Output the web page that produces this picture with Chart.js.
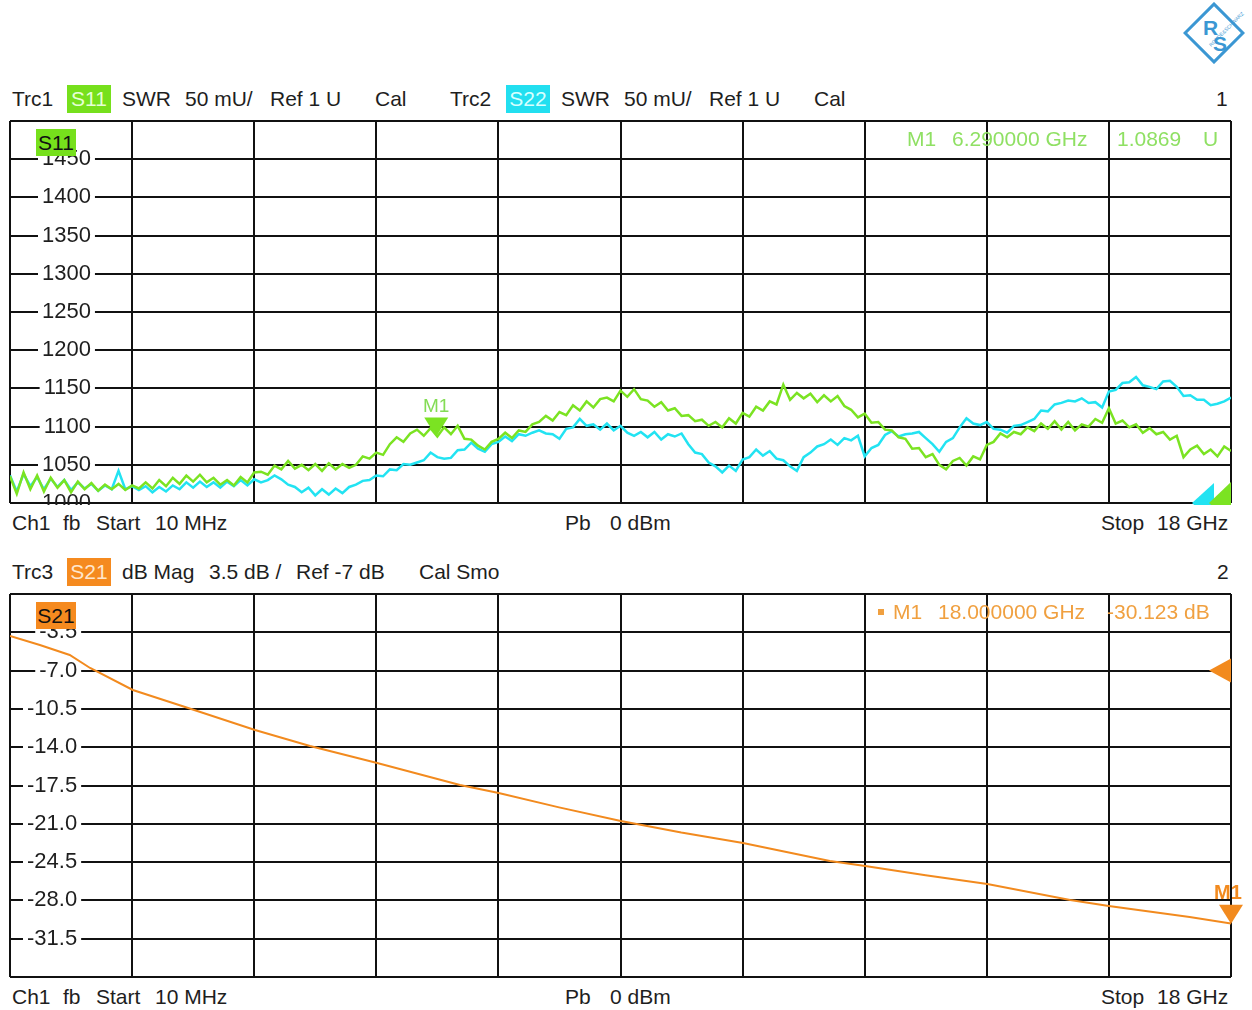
<!DOCTYPE html>
<html>
<head>
<meta charset="utf-8">
<script src="https://cdn.jsdelivr.net/npm/chart.js@4.4.1/dist/chart.umd.min.js"></script>
<style>
body { margin: 0; background: #fff; }
#page { position: relative; width: 1252px; height: 1010px; overflow: hidden; font-family: "Liberation Sans", Arial, sans-serif; font-size: 21px; color: #1e1e1e; }
.t { position: absolute; white-space: pre; line-height: 24px; }
.badge { position: absolute; height: 28px; line-height: 28px; text-align: center; white-space: pre; }
canvas { position: absolute; left: 0; }
.over { z-index: 2; }
</style>
</head>
<body>
<div id="page">
  <!-- logo -->
  <svg style="position:absolute;left:1183px;top:2px" width="62" height="62" viewBox="0 0 62 62">
    <rect x="10.5" y="10.5" width="41" height="41" transform="rotate(45 31 31)" fill="#fff" stroke="#3b97d3" stroke-width="3"/>
    <text x="20" y="33" font-size="21" fill="#3b97d3" font-family="Liberation Sans" font-weight="bold">R</text>
    <text x="30" y="49" font-size="21" fill="#3b97d3" font-family="Liberation Sans" font-weight="bold">S</text>
    <text x="22" y="40" font-size="5" fill="#3b97d3" font-family="Liberation Sans" transform="rotate(-45 31 35)">ROHDE&amp;SCHWARZ</text>
  </svg>

  <!-- header trace 1 / 2 -->
  <div class="t" style="left:12px;top:87px">Trc1</div>
  <div class="badge" style="left:67px;top:85px;width:44px;background:#76e01c;color:#e6ffd6">S11</div>
  <div class="t" style="left:122px;top:87px">SWR</div>
  <div class="t" style="left:185px;top:87px">50 mU/</div>
  <div class="t" style="left:270px;top:87px">Ref 1 U</div>
  <div class="t" style="left:375px;top:87px">Cal</div>
  <div class="t" style="left:450px;top:87px">Trc2</div>
  <div class="badge" style="left:506px;top:85px;width:44px;background:#22dff0;color:#d8ffff">S22</div>
  <div class="t" style="left:561px;top:87px">SWR</div>
  <div class="t" style="left:624px;top:87px">50 mU/</div>
  <div class="t" style="left:709px;top:87px">Ref 1 U</div>
  <div class="t" style="left:814px;top:87px">Cal</div>
  <div class="t" style="left:1216px;top:87px">1</div>

  <canvas id="cTop" width="1252" height="394" style="top:111px"></canvas>
  <div class="badge over" style="left:36px;top:129px;width:40px;height:27px;line-height:27px;background:#76e01c;color:#111">S11</div>
  <div class="t over" style="left:907px;top:127px;color:#8fe063">M1</div>
  <div class="t over" style="left:952px;top:127px;color:#8fe063">6.290000 GHz</div>
  <div class="t over" style="left:1117px;top:127px;color:#8fe063">1.0869</div>
  <div class="t over" style="left:1203px;top:127px;color:#8fe063">U</div>

  <div class="t" style="left:12px;top:511px">Ch1</div>
  <div class="t" style="left:63px;top:511px">fb</div>
  <div class="t" style="left:96px;top:511px">Start</div>
  <div class="t" style="left:155px;top:511px">10 MHz</div>
  <div class="t" style="left:565px;top:511px">Pb</div>
  <div class="t" style="left:610px;top:511px">0 dBm</div>
  <div class="t" style="left:1101px;top:511px">Stop</div>
  <div class="t" style="left:1157px;top:511px">18 GHz</div>

  <!-- header trace 3 -->
  <div class="t" style="left:12px;top:560px">Trc3</div>
  <div class="badge" style="left:67px;top:558px;width:44px;background:#f58a1f;color:#ffe6cc">S21</div>
  <div class="t" style="left:122px;top:560px">dB Mag</div>
  <div class="t" style="left:209px;top:560px">3.5 dB /</div>
  <div class="t" style="left:296px;top:560px">Ref -7 dB</div>
  <div class="t" style="left:419px;top:560px">Cal Smo</div>
  <div class="t" style="left:1217px;top:560px">2</div>

  <canvas id="cBot" width="1252" height="395" style="top:584px"></canvas>
  <div class="badge over" style="left:36px;top:602px;width:40px;height:27px;line-height:27px;background:#f58a1f;color:#111">S21</div>
  <div class="over" style="position:absolute;left:878px;top:609px;width:6px;height:6px;background:#f0a040"></div>
  <div class="t over" style="left:893px;top:600px;color:#f0a040">M1</div>
  <div class="t over" style="left:938px;top:600px;color:#f0a040">18.000000 GHz</div>
  <div class="t over" style="left:1107px;top:600px;color:#f0a040">-30.123 dB</div>

  <div class="t" style="left:12px;top:985px">Ch1</div>
  <div class="t" style="left:63px;top:985px">fb</div>
  <div class="t" style="left:96px;top:985px">Start</div>
  <div class="t" style="left:155px;top:985px">10 MHz</div>
  <div class="t" style="left:565px;top:985px">Pb</div>
  <div class="t" style="left:610px;top:985px">0 dBm</div>
  <div class="t" style="left:1101px;top:985px">Stop</div>
  <div class="t" style="left:1157px;top:985px">18 GHz</div>
</div>

<script>
// sweep 10 MHz .. 18 GHz, 181 points
var startGHz = 0.01;
var stopGHz = 18;

// S11 SWR (mU)
var s11 = [1035,1012,1040,1018,1036,1015,1033,1020,1030,1014,
    1028,1018,1026,1016,1024,1018,1025,1017,1023,1019,
    1027,1019,1030,1022,1033,1025,1036,1028,1037,1027,
    1033,1024,1030,1023,1034,1027,1040,1041,1037,1049,
    1044,1055,1045,1050,1043,1051,1042,1052,1044,1051,
    1046,1050,1061,1058,1066,1063,1077,1086,1080,1091,
    1096,1088,1098,1087,1099,1090,1101,1084,1083,1075,
    1070,1080,1084,1092,1085,1095,1093,1103,1106,1114,
    1108,1119,1115,1128,1121,1133,1125,1136,1138,1133,
    1147,1139,1149,1136,1134,1126,1132,1121,1124,1114,
    1115,1107,1109,1101,1106,1099,1111,1104,1118,1113,
    1126,1121,1133,1129,1155,1135,1144,1137,1143,1132,
    1141,1133,1140,1127,1122,1112,1117,1105,1106,1096,
    1095,1086,1084,1071,1072,1060,1064,1050,1044,1055,
    1059,1049,1061,1057,1076,1080,1091,1086,1093,1090,
    1099,1094,1104,1097,1107,1096,1106,1095,1103,1100,
    1110,1105,1124,1104,1108,1099,1103,1092,1098,1090,
    1093,1083,1088,1060,1070,1075,1064,1070,1061,1074,
    1068];

// S22 SWR (mU)
var s22 = [1036,1015,1038,1022,1034,1018,1032,1021,1030,1017,
    1027,1019,1025,1016,1023,1018,1042,1018,1022,1017,
    1022,1014,1021,1015,1023,1018,1027,1020,1028,1021,
    1027,1020,1028,1022,1030,1023,1031,1027,1030,1036,
    1031,1024,1021,1014,1020,1010,1018,1011,1019,1013,
    1021,1024,1029,1030,1036,1035,1044,1043,1051,1050,
    1053,1056,1066,1060,1058,1059,1069,1070,1079,1071,
    1067,1077,1080,1087,1081,1090,1088,1092,1095,1091,
    1090,1084,1097,1099,1110,1101,1103,1096,1104,1095,
    1101,1092,1088,1093,1086,1093,1083,1090,1087,1091,
    1077,1066,1064,1053,1048,1040,1049,1042,1057,1060,
    1070,1062,1068,1058,1056,1048,1042,1060,1066,1074,
    1077,1083,1076,1085,1082,1088,1061,1072,1076,1089,
    1094,1087,1090,1091,1093,1085,1077,1067,1080,1085,
    1099,1111,1104,1102,1106,1097,1096,1092,1101,1102,
    1106,1110,1121,1120,1129,1131,1134,1133,1137,1131,
    1132,1125,1146,1148,1157,1158,1165,1154,1152,1149,
    1159,1160,1152,1140,1141,1135,1135,1128,1130,1133,
    1138];

// S21 dB Mag
var s21Freq = [0.01, 0.45, 0.89, 1.19, 1.82, 2.59, 3.62, 4.43, 5.42, 6.64, 7.21, 8.1,
    9.01, 9.9, 10.81, 12.09, 12.61, 13.5, 14.41, 15.63, 16.2, 17.39, 18.0];
var s21 = [-3.84, -4.66, -5.57, -6.76, -8.77, -10.33, -12.43, -13.89, -15.44, -17.45, -18.18, -19.5,
    -20.74, -21.8, -22.75, -24.40, -24.86, -25.7, -26.50, -27.96, -28.51, -29.52, -30.12];

// markers and reference levels
var m1Top = { f: 6.29, v: 1086.9 };
var m1Bot = { f: 18.0, v: -30.123 };
var refTop = 1000;
var refBot = -7;

var cS11 = '#7be322';
var cS22 = '#22e3f2';
var cS21 = '#f28a1e';

function sweep(values) {
    var n = values.length;
    return values.map(function (v, i) {
        return { x: startGHz + i * (stopGHz - startGHz) / (n - 1), y: v };
    });
}

function pairs(xs, ys) {
    return xs.map(function (f, i) { return { x: f, y: ys[i] }; });
}

function leftTriangle(ctx, xr, y, h, len, color) {
    ctx.fillStyle = color;
    ctx.beginPath();
    ctx.moveTo(xr, y - h);
    ctx.lineTo(xr, y + h);
    ctx.lineTo(xr - len, y);
    ctx.closePath();
    ctx.fill();
}

// triangles + "M1" for markers and reference levels
function markerPlugin(refs, marks) {
    return {
        id: 'markers',
        afterDatasetsDraw: function (chart) {
            var ctx = chart.ctx;
            var x = chart.scales.x, y = chart.scales.y;
            ctx.save();
            refs.forEach(function (r) {
                leftTriangle(ctx, x.right - r.dx, y.getPixelForValue(r.v), r.h, r.len, r.color);
            });
            marks.forEach(function (m) {
                var px = x.getPixelForValue(m.f);
                var py = y.getPixelForValue(m.v);
                ctx.fillStyle = m.color;
                ctx.beginPath();
                ctx.moveTo(px, py);
                ctx.lineTo(px - 12, py - 19);
                ctx.lineTo(px + 12, py - 19);
                ctx.closePath();
                ctx.fill();
                ctx.font = m.font;
                ctx.fillStyle = m.textColor;
                ctx.textAlign = 'center';
                ctx.textBaseline = 'alphabetic';
                ctx.fillText('M1', px - m.shift, py - 25);
            });
            ctx.restore();
        }
    };
}

function xScale() {
    return {
        type: 'linear',
        min: startGHz,
        max: stopGHz,
        afterBuildTicks: function (scale) {
            var t = [];
            for (var i = 0; i <= 10; i++) {
                t.push({ value: startGHz + i * (stopGHz - startGHz) / 10 });
            }
            scale.ticks = t;
        },
        afterFit: function (scale) {
            scale.height = 0;
            scale.paddingLeft = 0;
            scale.paddingRight = 0;
        },
        ticks: { display: false },
        grid: { color: '#111', lineWidth: 2, drawTicks: false },
        border: { display: false }
    };
}

function yScale(min, max, step, fmt, pad) {
    return {
        type: 'linear',
        min: min,
        max: max,
        afterFit: function (scale) {
            // labels sit inside the grid, so the axis takes no room
            scale.width = 0;
            scale.paddingTop = 0;
            scale.paddingBottom = 0;
        },
        ticks: {
            stepSize: step,
            mirror: true,
            crossAlign: 'far',
            padding: pad,
            color: '#1e1e1e',
            font: { family: 'Liberation Sans', size: 22 },
            callback: fmt,
            showLabelBackdrop: function (c) {
                var v = c.tick.value;
                return v !== max && v !== min;
            },
            backdropColor: '#fff',
            backdropPadding: { left: 4, right: 4, top: 0, bottom: 0 }
        },
        grid: { color: '#111', lineWidth: 2, drawTicks: false },
        border: { display: false }
    };
}

new Chart(document.getElementById('cTop'), {
    type: 'line',
    data: {
        datasets: [
            { label: 'S11', data: sweep(s11), borderColor: cS11, borderWidth: 2.5, pointRadius: 0, tension: 0 },
            { label: 'S22', data: sweep(s22), borderColor: cS22, borderWidth: 2.5, pointRadius: 0, tension: 0 }
        ]
    },
    options: {
        animation: false,
        responsive: false,
        layout: { padding: { left: 10, top: 10, right: 21, bottom: 2 } },
        plugins: { legend: { display: false }, tooltip: { enabled: false } },
        scales: {
            x: xScale(),
            y: yScale(1000, 1500, 50, function (v) { return v >= 1500 ? '' : String(v); }, 32)
        }
    },
    plugins: [markerPlugin(
        [
            { v: refTop, dx: 17, h: 20, len: 22, color: cS22 },
            { v: refTop, dx: 0, h: 21, len: 22, color: cS11 }
        ],
        [
            { f: m1Top.f, v: m1Top.v, color: cS11, textColor: '#84dc55', font: '19px "Liberation Sans"', shift: 0 }
        ]
    )]
});

new Chart(document.getElementById('cBot'), {
    type: 'line',
    data: {
        datasets: [
            { label: 'S21', data: pairs(s21Freq, s21), borderColor: cS21, borderWidth: 2, pointRadius: 0, tension: 0 }
        ]
    },
    options: {
        animation: false,
        responsive: false,
        layout: { padding: { left: 10, top: 10, right: 21, bottom: 2 } },
        plugins: { legend: { display: false }, tooltip: { enabled: false } },
        scales: {
            x: xScale(),
            y: yScale(-35, 0, 3.5, function (v) {
                if (v >= 0 || v <= -35) return '';
                return v.toFixed(1);
            }, 17)
        }
    },
    plugins: [markerPlugin(
        [{ v: refBot, dx: 0, h: 12, len: 22, color: cS21 }],
        [{ f: m1Bot.f, v: m1Bot.v, color: cS21, textColor: cS21, font: 'bold 20px "Liberation Sans"', shift: 3 }]
    )]
});
</script>
</body>
</html>
